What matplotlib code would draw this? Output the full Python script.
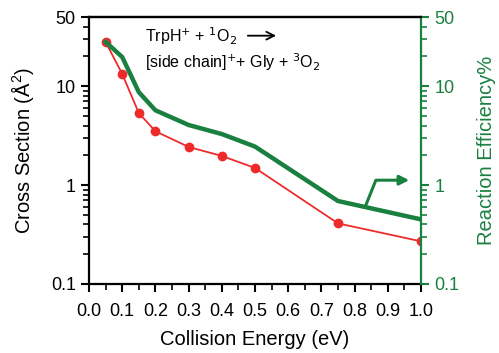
import matplotlib
matplotlib.use("Agg")
import matplotlib.pyplot as plt
from matplotlib.ticker import FixedLocator, FixedFormatter, LogLocator, NullFormatter, MultipleLocator

plt.rcParams["font.family"] = ["Liberation Sans", "DejaVu Sans"]

# ----------------------------
# Data
# ----------------------------

energy = [0.05, 0.1, 0.15, 0.2, 0.3, 0.4, 0.5, 0.75, 1.0]
cross_section = [28, 13.3, 5.35, 3.5, 2.43, 1.97, 1.49, 0.41, 0.27]
efficiency = [28, 19.7, 8.7, 5.7, 4.05, 3.28, 2.45, 0.69, 0.45]

y_ticks = [0.1, 1, 10, 50]
y_tick_labels = ["0.1", "1", "10", "50"]

red = "#ee2b2b"
green = "#1a8040"

# ----------------------------
# Figure
# ----------------------------

fig = plt.figure(figsize=(4.99, 3.53), dpi=100)
ax = fig.add_axes([89 / 499, 1 - 284 / 353, 332 / 499, 267 / 353])
ax2 = ax.twinx()

ax.plot(
    energy,
    cross_section,
    color=red,
    linewidth=1.3,
    marker="o",
    markersize=6,
    zorder=3
)

ax2.plot(
    energy,
    efficiency,
    color=green,
    linewidth=3.2,
    solid_joinstyle="miter"
)

for a in (ax, ax2):
    a.set_yscale("log")
    a.set_ylim(0.1, 50)
    a.yaxis.set_major_locator(FixedLocator(y_ticks))
    a.yaxis.set_major_formatter(FixedFormatter(y_tick_labels))
    a.yaxis.set_minor_locator(LogLocator(base=10, subs=range(2, 10)))
    a.yaxis.set_minor_formatter(NullFormatter())

ax.set_xlim(0, 1.0)
ax.xaxis.set_major_locator(MultipleLocator(0.1))
ax.xaxis.set_minor_locator(MultipleLocator(0.05))
ax.xaxis.set_major_formatter(plt.FuncFormatter(lambda v, p: f"{v:.1f}"))

ax.tick_params(axis="both", which="major", length=6, width=1.5,
               labelsize=13, direction="out")
ax.tick_params(axis="both", which="minor", length=4, width=1.2,
               direction="out")
ax.tick_params(axis="x", pad=8)

ax2.tick_params(axis="y", which="major", length=6, width=1.5,
                labelsize=13, colors=green, direction="out")
ax2.tick_params(axis="y", which="minor", length=4, width=1.2,
                colors=green, direction="out")

for side in ("left", "bottom", "top"):
    ax.spines[side].set_linewidth(1.6)
ax.spines["right"].set_visible(False)
ax2.spines["right"].set_color(green)
ax2.spines["right"].set_linewidth(1.6)
ax2.spines["left"].set_visible(False)
ax2.spines["top"].set_linewidth(1.6)
ax2.spines["bottom"].set_visible(False)

ax.set_xlabel("Collision Energy (eV)", fontsize=14.5, labelpad=7)
ax.set_ylabel("Cross Section ($\\mathregular{\\AA^2}$)", fontsize=14.5, labelpad=11)
ax2.set_ylabel("Reaction Efficiency%", fontsize=14.5, color=green, labelpad=13)

# reaction text
ax.text(0.168, 0.93, "TrpH$^{+}$ + $^{1}$O$_{2}$", transform=ax.transAxes,
        fontsize=11.5, va="center", ha="left")
ax.annotate("", xy=(0.572, 0.93), xytext=(0.47, 0.93),
            xycoords="axes fraction",
            arrowprops=dict(arrowstyle="->", color="black", lw=1.3,
                            mutation_scale=14))
ax.text(0.168, 0.83, "[side chain]$^{+}$+ Gly + $^{3}$O$_{2}$",
        transform=ax.transAxes, fontsize=11.5, va="center", ha="left")

# arrow pointing to the right axis
ax2.plot([0.834, 0.864, 0.95], [0.628, 1.12, 1.12], color=green, lw=2.2)
ax2.annotate("", xy=(0.973, 1.12), xytext=(0.93, 1.12),
             arrowprops=dict(arrowstyle="-|>", color=green, lw=2.2,
                             mutation_scale=14))

fig.savefig("out.png", dpi=100)
